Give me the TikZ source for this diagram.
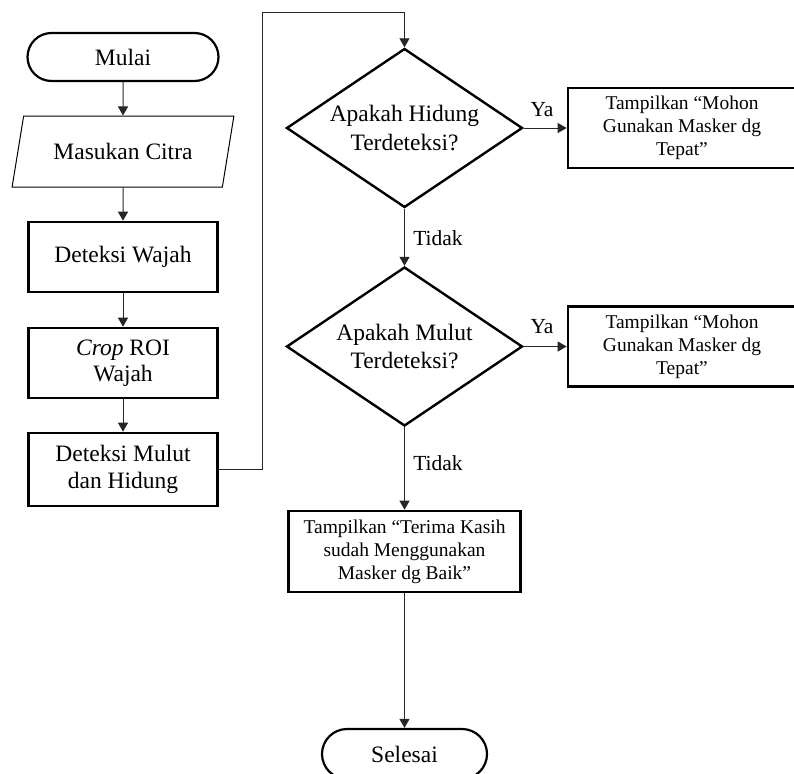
\documentclass[tikz,border=0pt]{standalone}
\usepackage{fontspec}
\setmainfont{Liberation Serif}
\usetikzlibrary{shapes.geometric}
\usetikzlibrary{arrows.meta}

\begin{document}
\begin{tikzpicture}[x=1pt, y=-1pt,
        teks/.style = {font=\fontsize{23.5}{26.5}\selectfont, align=center},
        teksk/.style = {font=\fontsize{19.5}{23}\selectfont, align=center},
        label/.style = {font=\fontsize{21.5}{24}\selectfont},
        terminal/.style = {teks, draw, line width=2.2pt, rectangle, rounded corners=24pt, minimum width=191pt, minimum height=48pt},
        masukan/.style = {teks, draw, line width=1pt, trapezium, trapezium left angle=64, trapezium right angle=116, trapezium stretches=true, minimum width=222pt, minimum height=71pt, inner sep=0pt},
        proses/.style = {teks, draw, line width=2.6pt, rectangle, minimum width=189pt, minimum height=70pt, inner sep=2pt},
        keputusan/.style = {font=\fontsize{23.5}{28.5}\selectfont, align=center, draw, line width=2.4pt, diamond, aspect=1.48, minimum width=236pt, minimum height=159pt, inner sep=0pt},
        tampil/.style = {teksk, draw, line width=2.6pt, rectangle, minimum width=228pt, minimum height=80pt, inner sep=2pt},
        panah/.style = {draw=black!85, line width=1pt, -{Triangle[width=10pt,length=9pt]}}
    ]
    \useasboundingbox (0,0) rectangle (794,773);

    % kolom kiri
    \node[terminal] (mulai) at (123,57) {Mulai};
    \node[masukan] (citra) at (123,151.5) {Masukan Citra};
    \node[proses] (wajah) at (123,257) {Deteksi Wajah};
    \node[proses] (crop) at (123,363) {\textit{Crop} ROI\\Wajah};
    \node[proses, minimum height=73pt] (mulut) at (123,469.5) {Deteksi Mulut\\dan Hidung};
    \coordinate (naik) at (262,13);

    % kolom kanan
    \node[keputusan] (hidung) at (404.5,128) {Apakah Hidung\\Terdeteksi?};
    \node[tampil] (pesan1) at (682,128) {Tampilkan “Mohon\\Gunakan Masker dg\\Tepat”};
    \node[keputusan] (cekmulut) at (404.5,346.5) {Apakah Mulut\\Terdeteksi?};
    \node[tampil] (pesan2) at (682,346.5) {Tampilkan “Mohon\\Gunakan Masker dg\\Tepat”};
    \node[tampil, minimum width=232pt, minimum height=81pt] (terimakasih) at (404.5,551.5) {Tampilkan “Terima Kasih\\sudah Menggunakan\\Masker dg Baik”};
    \node[terminal, minimum width=165pt, minimum height=50pt, rounded corners=25pt] (selesai) at (404.5,754) {Selesai};

    \node[label] (ya1) at (542,110) {Ya};
    \node[label] (ya2) at (542,327) {Ya};
    \node[label] (tidak1) at (438,238) {Tidak};
    \node[label] (tidak2) at (438,463) {Tidak};

    % panah
    \draw[panah] (mulai) -- (citra);
    \draw[panah] (citra) -- (wajah);
    \draw[panah] (wajah) -- (crop);
    \draw[panah] (crop) -- (mulut);
    \draw[panah] (mulut.east) -| (naik) -| (hidung.north);
    \draw[panah] (hidung) -- (pesan1);
    \draw[panah] (hidung) -- (cekmulut);
    \draw[panah] (cekmulut) -- (pesan2);
    \draw[panah] (cekmulut) -- (terimakasih);
    \draw[panah] (terimakasih) -- (selesai);
\end{tikzpicture}
\end{document}
